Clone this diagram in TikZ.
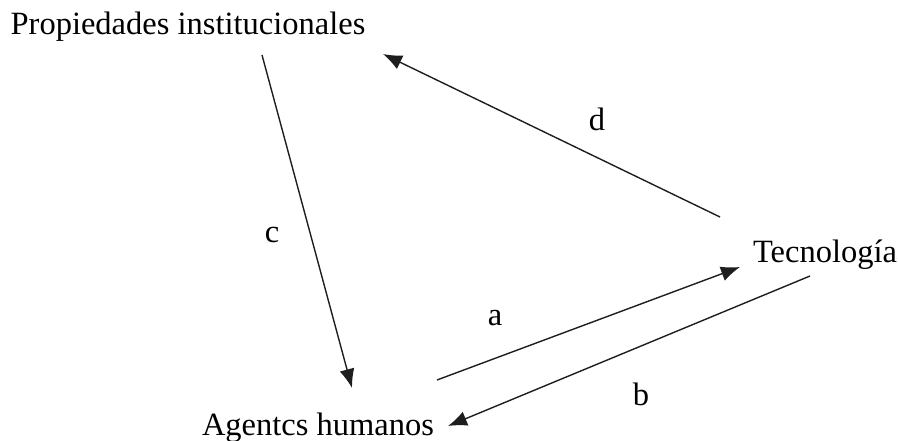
\documentclass[tikz,border=0pt]{standalone}
\usepackage{fontspec}
\setmainfont{Liberation Serif}
\usepackage{xcolor}
\usetikzlibrary{arrows.meta}
\definecolor{mygray}{RGB}{30, 30, 30}

\begin{document}
\begin{tikzpicture}[x=1pt,y=-1pt,
  lbl/.style={anchor=base,inner sep=0pt,font=\fontsize{32.5}{38}\selectfont},
  flecha/.style={-{Latex[length=19pt,width=15pt]},line width=1.4,color=mygray}]
\useasboundingbox (0,0) rectangle (898,441);

%texts
\node[lbl] (prop) at (188,35) {Propiedades institucionales};
\node[lbl] (tec) at (825,262) {Tecnología};
\node[lbl] (agen) at (318,435) {Agentcs humanos};

%arrow ends
\coordinate (c0) at (262,55);
\coordinate (c1) at (352,388);
\coordinate (d0) at (720,217);
\coordinate (d1) at (383,54);
\coordinate (a0) at (437,380);
\coordinate (a1) at (740,267);
\coordinate (b0) at (810,276);
\coordinate (b1) at (448,426);

%arrows
\draw[flecha] (c0) -- (c1);
\draw[flecha] (d0) -- (d1);
\draw[flecha] (a0) -- (a1);
\draw[flecha] (b0) -- (b1);

%arrow labels
\node[lbl] (lc) at (272,243) {c};
\node[lbl] (ld) at (597,131) {d};
\node[lbl] (la) at (495,325) {a};
\node[lbl] (lb) at (641,405) {b};
\end{tikzpicture}
\end{document}
